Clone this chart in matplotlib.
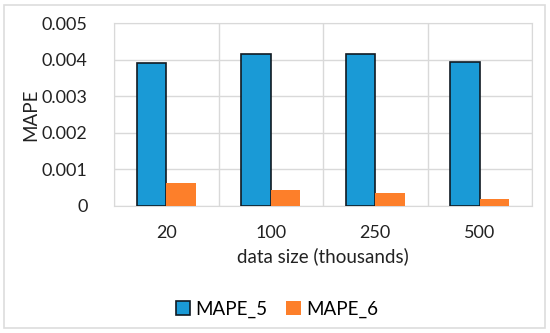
import numpy as np
import matplotlib.pyplot as plt
from matplotlib.patches import Rectangle

plt.rcParams['font.family'] = ['Lato', 'DejaVu Sans']

# dados
categorias = ['20', '100', '250', '500']
mape_5 = [0.00390, 0.00415, 0.00415, 0.00393]
mape_6 = [0.00064, 0.00044, 0.00036, 0.00019]

azul = '#1a9ad6'
laranja = '#fd7f2a'
cinza = '#d9d9d9'

fig = plt.figure(figsize=(5.5, 3.33), dpi=100)
ax = fig.add_axes([114 / 550, 1 - 206 / 333, (532 - 114) / 550, (206 - 23) / 333])

x = np.arange(len(categorias))
w = 0.28
ax.bar(x - w / 2, mape_5, w, color=azul, edgecolor='#111a22', linewidth=1.2, label='MAPE_5', zorder=3)
ax.bar(x + w / 2, mape_6, w, color=laranja, edgecolor='none', label='MAPE_6', zorder=3)

ax.set_xlim(-0.5, len(categorias) - 0.5)
ax.set_ylim(0, 0.005)
ax.set_yticks([0, 0.001, 0.002, 0.003, 0.004, 0.005])
ax.set_yticklabels(['0', '0.001', '0.002', '0.003', '0.004', '0.005'])
ax.set_xticks(x)
ax.set_xticklabels(categorias)

# linhas de grade: horizontais e separadores verticais entre categorias
ax.set_xticks(np.arange(-0.5, len(categorias), 1), minor=True)
ax.grid(axis='y', which='major', color=cinza, linewidth=1, zorder=0)
ax.grid(axis='x', which='minor', color=cinza, linewidth=1, zorder=0)
ax.tick_params(axis='both', which='both', length=0, labelsize=13, colors='#222222')
ax.tick_params(axis='y', pad=19)
ax.tick_params(axis='x', pad=14)
for s in ax.spines.values():
    s.set_color(cinza)

ax.set_ylabel('MAPE', fontsize=13.5, color='#222222')
ax.yaxis.set_label_coords(-0.178, 0.5)
ax.set_xlabel('data size (thousands)', fontsize=13.5, color='#222222', labelpad=4)

ax.legend(loc='upper center', bbox_to_anchor=(0.39, -0.425), ncol=2, frameon=False,
          fontsize=13.5, handlelength=0.75, handleheight=0.75, columnspacing=1.0, handletextpad=0.3)

# moldura externa
fig.patches.append(Rectangle((4 / 550, 5 / 333), 541 / 550, 323 / 333, transform=fig.transFigure,
                             fill=False, edgecolor='#dddddd', linewidth=1.2))

fig.savefig('out.png', dpi=100)
